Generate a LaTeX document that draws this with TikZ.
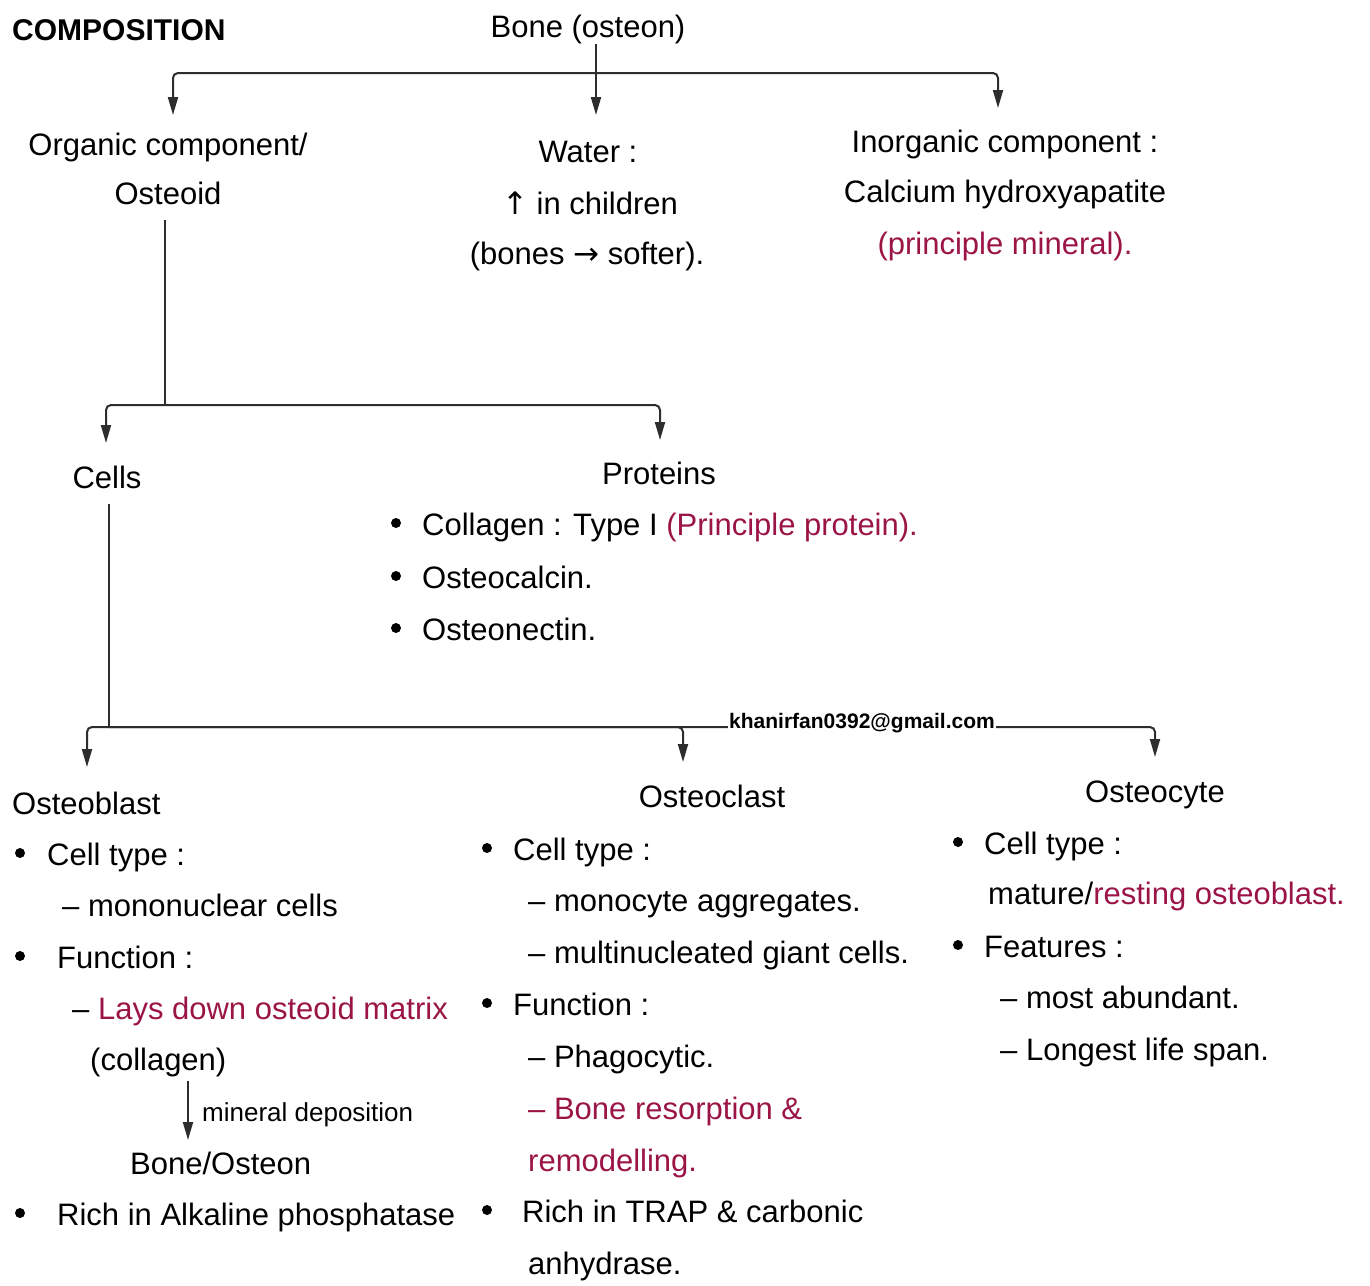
\documentclass[tikz,border=0pt]{standalone}
\usepackage{fontspec}
\setmainfont{Liberation Sans}
\newfontfamily\symfont{DejaVu Sans}
\usetikzlibrary{arrows.meta}
\definecolor{notered}{RGB}{155,20,70}
\definecolor{inkgray}{RGB}{45,45,45}

\begin{document}
\begin{tikzpicture}[x=1pt, y=-1pt,
  every node/.style={inner sep=0pt, font=\fontsize{31}{52}\selectfont},
  txt/.style={anchor=base west},
  ctr/.style={anchor=base},
  link/.style={draw=inkgray, line width=2pt, rounded corners=5pt},
  arr/.style={link, -{Triangle[length=18pt,width=10pt]}}]
  \useasboundingbox (0,0) rectangle (1370,1285);

  % Title and root
  \node[txt, font=\fontsize{30}{36}\selectfont\bfseries] (title) at (12,40) {COMPOSITION};
  \node[ctr] (bone) at (588,37) {Bone (osteon)};

  % First level
  \node[ctr] (organic) at (168,155) {Organic component/};
  \node[ctr] (osteoid) at (168,204) {Osteoid};
  \node[ctr] (water) at (588,162) {Water :};
  \node[ctr] (child) at (590,214) {{\symfont ↑} in children};
  \node[ctr] (softer) at (587,264) {(bones {\symfont →} softer).};
  \node[ctr] (inorg) at (1005,152) {Inorganic component :};
  \node[ctr] (calc) at (1005,202) {Calcium hydroxyapatite};
  \node[ctr, text=notered] (mineral) at (1005,254) {(principle mineral).};

  % Organic matrix
  \node[ctr] (cells) at (107,488) {Cells};
  \node[ctr] (proteins) at (659,484) {Proteins};
  \node[txt] (pr1) at (422,535) {Collagen : Type I {\color{notered}(Principle protein).}};
  \node[txt] (pr2) at (422,588) {Osteocalcin.};
  \node[txt] (pr3) at (422,640) {Osteonectin.};

  % Bone cells
  \node[txt] (oblast) at (12,814) {Osteoblast};
  \node[ctr] (oclast) at (712,807) {Osteoclast};
  \node[ctr] (ocyte) at (1155,802) {Osteocyte};

  % Osteoblast
  \node[txt] (ob1) at (47,865) {Cell type :};
  \node[txt] (ob2) at (62,916) {– mononuclear cells};
  \node[txt] (ob3) at (57,968) {Function :};
  \node[txt] (ob4) at (72,1019) {– {\color{notered}Lays down osteoid matrix}};
  \node[txt] (ob5) at (90,1070) {(collagen)};
  \node[txt, font=\fontsize{26}{30}\selectfont] (depo) at (202,1121) {mineral deposition};
  \node[txt] (ob6) at (130,1174) {Bone/Osteon};
  \node[txt] (ob7) at (57,1225) {Rich in Alkaline phosphatase};

  % Osteoclast
  \node[txt] (oc1) at (513,860) {Cell type :};
  \node[txt] (oc2) at (528,911) {– monocyte aggregates.};
  \node[txt] (oc3) at (528,963) {– multinucleated giant cells.};
  \node[txt] (oc4) at (513,1015) {Function :};
  \node[txt] (oc5) at (528,1067) {– Phagocytic.};
  \node[txt, text=notered] (oc6) at (528,1119) {– Bone resorption \&};
  \node[txt, text=notered] (oc7) at (528,1171) {remodelling.};
  \node[txt] (oc8) at (522,1222) {Rich in TRAP \& carbonic};
  \node[txt] (oc9) at (528,1274) {anhydrase.};

  % Osteocyte
  \node[txt] (oy1) at (984,854) {Cell type :};
  \node[txt] (oy2) at (988,904) {mature/{\color{notered}resting osteoblast.}};
  \node[txt] (oy3) at (984,957) {Features :};
  \node[txt] (oy4) at (1000,1008) {– most abundant.};
  \node[txt] (oy5) at (1000,1060) {– Longest life span.};

  % Bullets
  \foreach \x/\y in {396/523, 396/576, 396/628, 20/853, 20/956, 20/1213,
                     487/848, 487/1003, 487/1210, 958/842, 958/945}
    \fill[black] (\x,\y) circle (5);

  % Tree connectors
  \coordinate (b1) at (596,73);
  \coordinate (tipOrg) at (173,115);
  \coordinate (tipWat) at (596,115);
  \coordinate (tipInorg) at (998,108);
  \draw[arr] (bone.south -| tipWat) -- (tipWat);
  \draw[arr] (b1) -| (tipOrg);
  \draw[arr] (b1) -| (tipInorg);

  \coordinate (b2) at (165,405);
  \coordinate (tipCells) at (106,443);
  \coordinate (tipProt) at (660,440);
  \draw[link] ([yshift=-15pt]osteoid.south -| b2) -- (b2);
  \draw[arr] (b2) -| (tipCells);
  \draw[arr] (b2) -| (tipProt);

  \coordinate (b3) at (109,727);
  \coordinate (tipOb) at (87,767);
  \coordinate (tipOc) at (683,762);
  \coordinate (tipOy) at (1155,757);
  \draw[link] ([yshift=-15pt]cells.south -| b3) -- (b3);
  \draw[arr] (b3) -| (tipOb);
  \draw[arr] (b3) -| (tipOc);
  \draw[arr] (b3) -| (tipOy);

  \coordinate (tipBone) at (188,1140);
  \draw[arr] ([yshift=-4pt]ob5.south -| tipBone) -- (tipBone);

  % Watermark on the line
  \node[ctr, fill=white, inner xsep=1pt, font=\fontsize{21}{24}\selectfont\bfseries] (email) at (862,728) {khanirfan0392@gmail.com};
\end{tikzpicture}
\end{document}
